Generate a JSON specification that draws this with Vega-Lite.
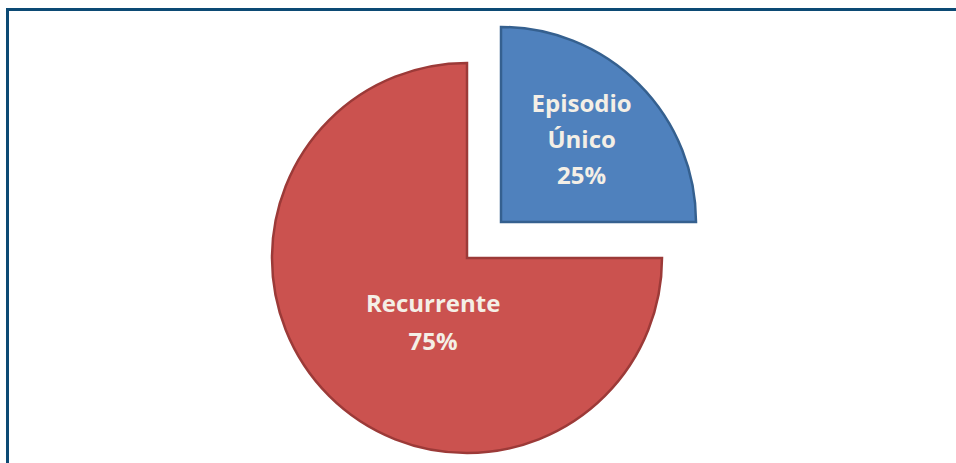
{
  "$schema": "https://vega.github.io/schema/vega-lite/v6.json",
  "width": 960,
  "height": 500,
  "autosize": {"type": "none"},
  "padding": {"left": 7.5, "top": 9.5, "right": 0, "bottom": 0},
  "background": "white",
  "view": {"stroke": "#0c4a74", "strokeWidth": 3, "fill": "white"},
  "config": {"view": {"stroke": "#0c4a74", "strokeWidth": 3}},
  "data": {
    "values": [
      {"category": "Episodio Único", "value": 25, "label": "Episodio\nÚnico\n25%"},
      {"category": "Recurrente", "value": 75, "label": "Recurrente\n75%"}
    ]
  },
  "encoding": {
    "theta": {"field": "value", "type": "quantitative", "stack": true},
    "order": {"field": "category", "sort": "ascending"},
    "color": {
      "field": "category",
      "type": "nominal",
      "scale": {"domain": ["Episodio Único", "Recurrente"], "range": ["#4f81bd", "#cb524f"]},
      "legend": null
    }
  },
  "layer": [
    {
      "mark": {"type": "arc", "radius": 195, "xOffset": -20.5, "yOffset": -1.5, "stroke": "#9c3a38", "strokeWidth": 2.5},
      "encoding": {
        "opacity": {"condition": {"test": "datum.category === 'Recurrente'", "value": 1}, "value": 0}
      }
    },
    {
      "mark": {"type": "arc", "radius": 195, "xOffset": 13.5, "yOffset": -37.5, "stroke": "#35608f", "strokeWidth": 2.5},
      "encoding": {
        "opacity": {"condition": {"test": "datum.category === 'Episodio Único'", "value": 1}, "value": 0}
      }
    },
    {
      "mark": {"type": "text", "radius": 114, "dy": -36, "xOffset": 13.5, "yOffset": -37.5, "font": "Open Sans", "fontWeight": "bold", "fontSize": 24, "lineHeight": 36, "lineBreak": "\n", "baseline": "middle", "align": "center"},
      "encoding": {
        "text": {"field": "label"},
        "color": {"value": "#f4efe6"},
        "opacity": {"condition": {"test": "datum.category === 'Episodio Único'", "value": 1}, "value": 0}
      }
    },
    {
      "mark": {"type": "text", "radius": 74, "thetaOffset": -0.31, "dy": -19, "xOffset": -20.5, "yOffset": -1.5, "font": "Open Sans", "fontWeight": "bold", "fontSize": 24, "lineHeight": 38, "lineBreak": "\n", "baseline": "middle", "align": "center"},
      "encoding": {
        "text": {"field": "label"},
        "color": {"value": "#f4efe6"},
        "opacity": {"condition": {"test": "datum.category === 'Recurrente'", "value": 1}, "value": 0}
      }
    }
  ]
}
